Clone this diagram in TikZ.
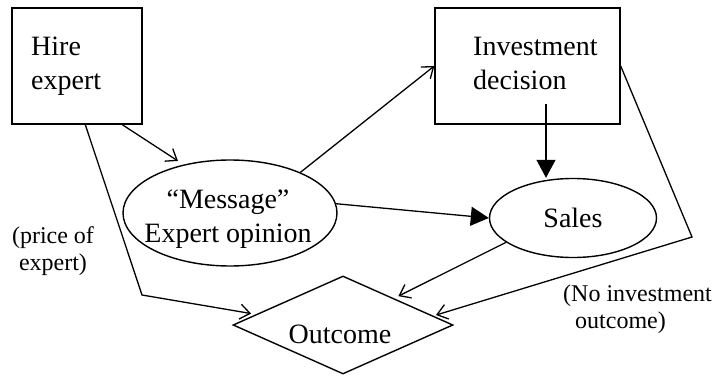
\documentclass[tikz,border=0pt]{standalone}
\usepackage{fontspec}
\setmainfont{Liberation Serif}
\usetikzlibrary{shapes.geometric,arrows.meta,calc}
\begin{document}
\begin{tikzpicture}[x=1pt,y=-1pt,
  shapeline/.style={draw,line width=1.4pt,inner sep=0pt},
  boxnode/.style={shapeline,rectangle},
  ellnode/.style={shapeline,ellipse},
  dianode/.style={shapeline,diamond},
  bigtext/.style={inner sep=0pt,font=\fontsize{28}{34}\selectfont},
  smalltext/.style={inner sep=0pt,font=\fontsize{24}{27}\selectfont},
  conn/.style={line width=1.3pt},
  oarrow/.style={conn,-{Straight Barb[length=10pt,width=15pt,line width=1.3pt]}},
  farrow/.style={conn,-{Triangle[length=18pt,width=19pt]}}]
\useasboundingbox (0,0) rectangle (712,377);
% shapes
\node[boxnode,minimum width=130pt,minimum height=116pt] (hire) at (77,66) {};
\node[boxnode,minimum width=185pt,minimum height=116pt] (inv) at (527.5,66) {};
\node[ellnode,minimum width=214pt,minimum height=106pt] (msg) at (230,213) {};
\node[ellnode,minimum width=167pt,minimum height=79pt] (sales) at (573,218) {};
\node[dianode,minimum width=220pt,minimum height=98pt] (out) at (343,325) {};
% texts (base anchor = baseline of the last line)
\node[bigtext,anchor=base west,align=left] (hiretxt) at (31,90) {Hire\\expert};
\node[bigtext,anchor=base west,align=left] (invtxt) at (473,90) {Investment\\decision};
\node[bigtext,anchor=base,align=center] (msgtxt) at (228,242) {“Message”\\Expert opinion};
\node[bigtext,anchor=base] (salestxt) at (573,227) {Sales};
\node[bigtext,anchor=base] (outtxt) at (340,343) {Outcome};
\node[smalltext,anchor=base,align=center] (pricetxt) at (53,270) {(price of\\expert)};
\node[smalltext,anchor=base west,align=left] (noinvtxt) at (563,328) {(No investment\\\hspace*{12pt}outcome)};
% connectors
\coordinate (bend1) at (142,295);
\coordinate (bend2) at (692,237);
\coordinate (invdrop) at ($(inv.south)+(18.5,-21)$);
\draw[oarrow] ($(hire.south west)+(111,0)$) -- ([shift={(-4,-4)}]msg.135);
\draw[oarrow] ($(hire.south west)+(74,0)$) -- (bend1) -- ([shift={(0,-3)}]$(out.west)!0.17!(out.north)$);
\draw[oarrow] (msg.30) -- (inv.west);
\draw[farrow] (msg.5) -- (sales.west);
\draw[farrow] (invdrop) -- (invdrop |- sales.north);
\draw[oarrow] (inv.east) -- (bend2) -- ([shift={(0,-2)}]$(out.north)!0.84!(out.east)$);
\draw[oarrow] (sales.200) -- ([shift={(0,-4)}]$(out.north)!0.5!(out.east)$);
\end{tikzpicture}
\end{document}
